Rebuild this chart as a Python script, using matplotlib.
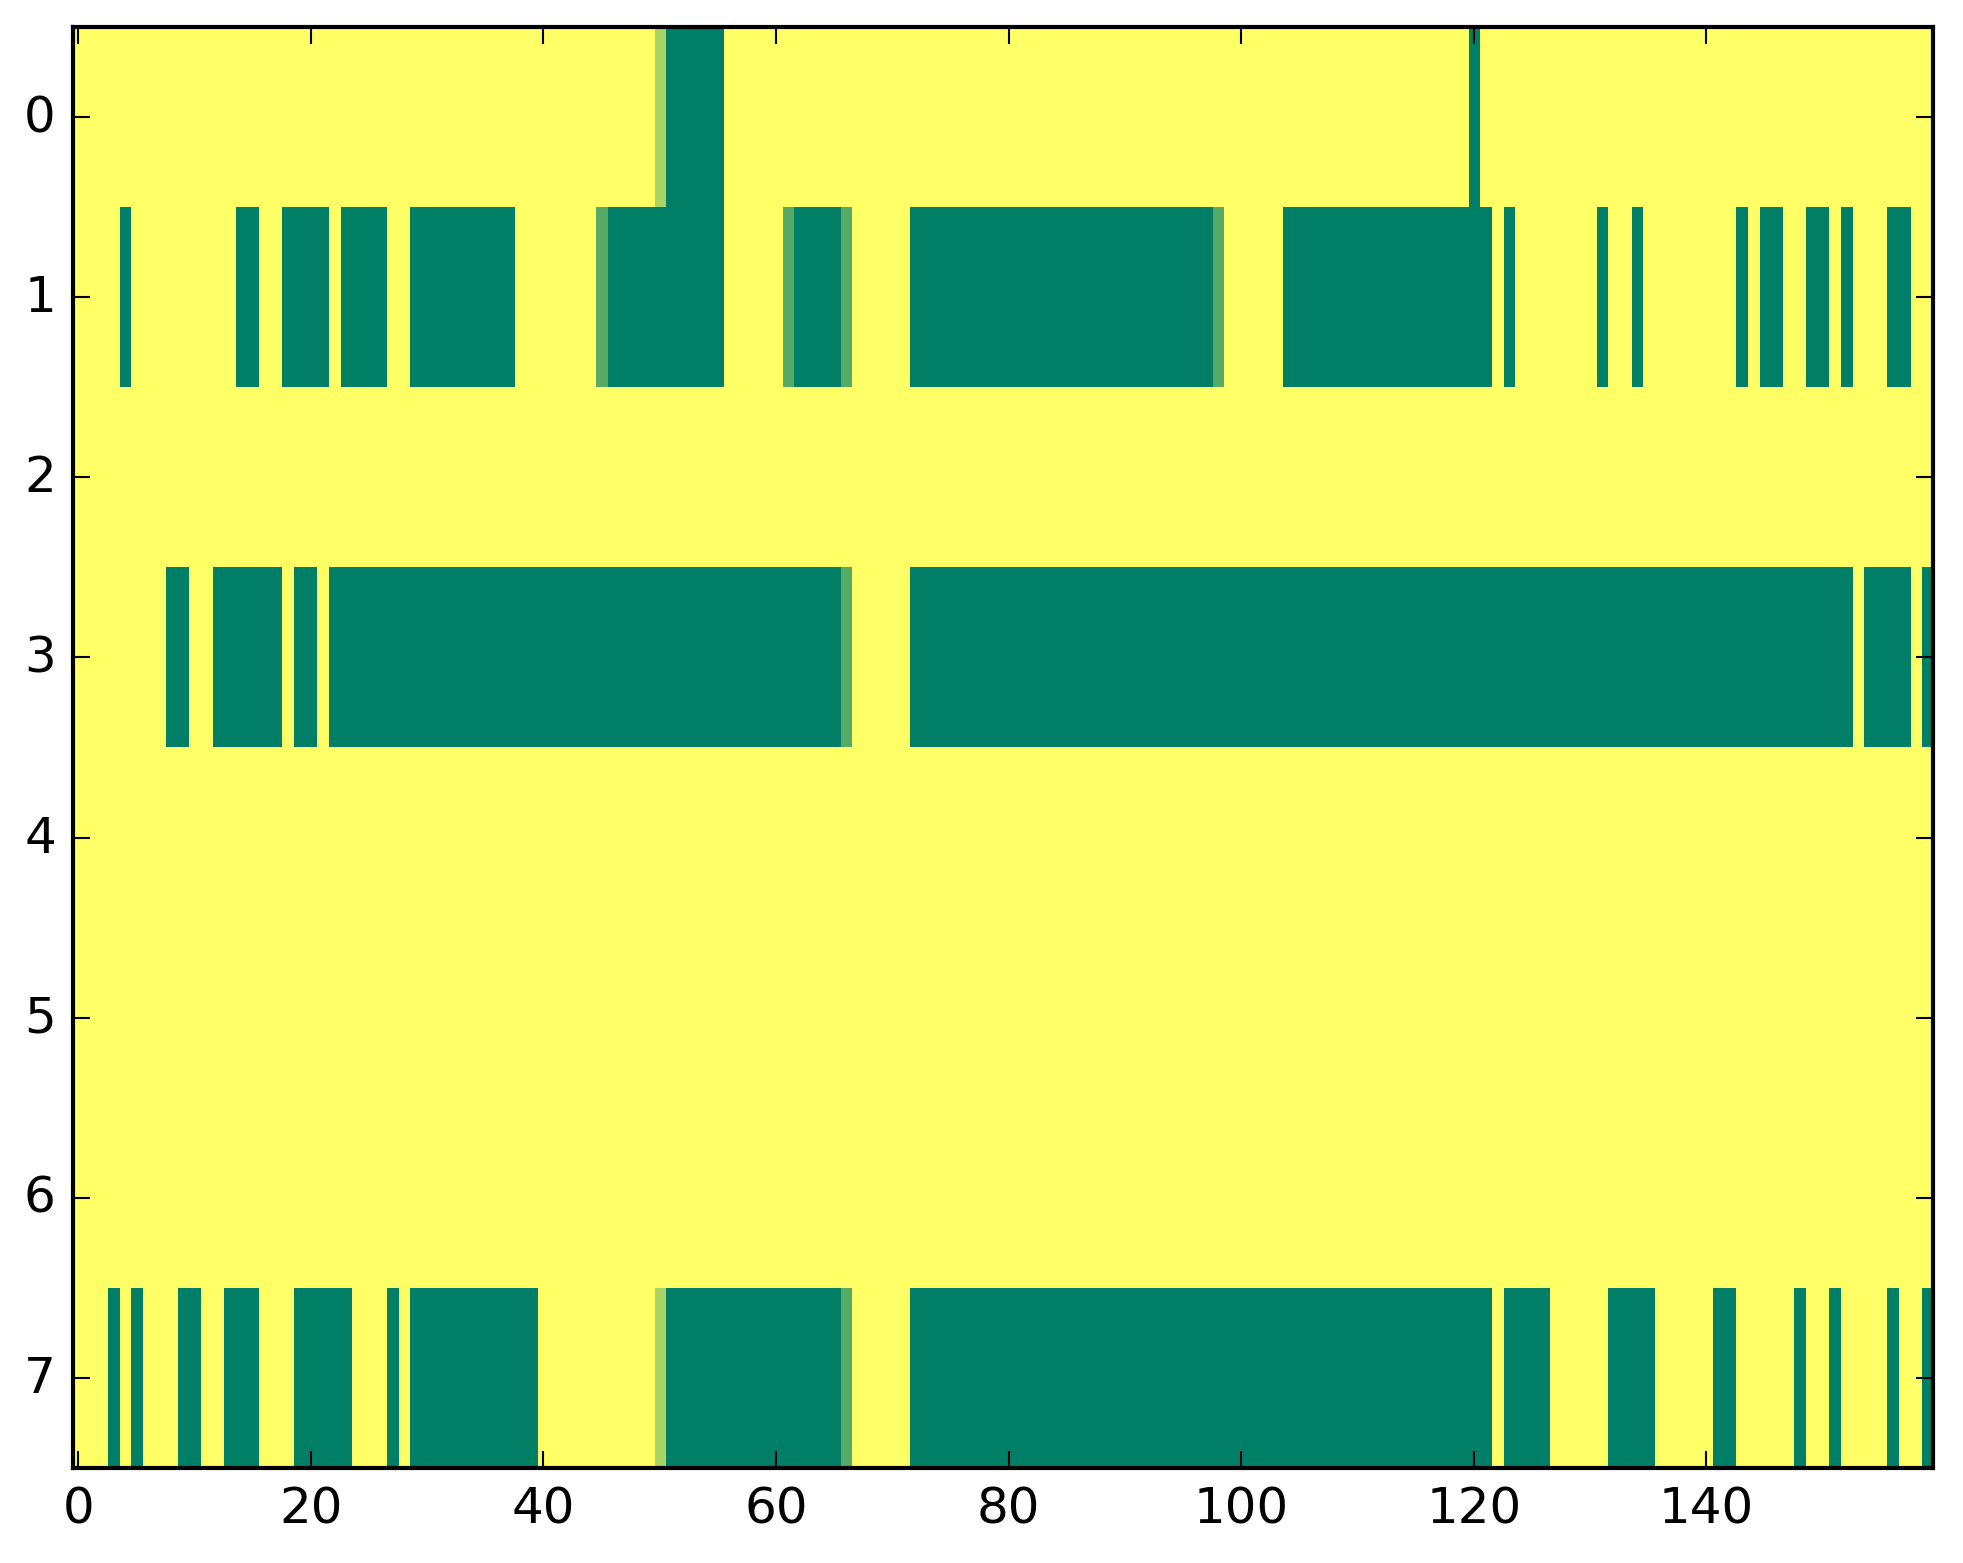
import numpy as np
import matplotlib
matplotlib.use("Agg")
import matplotlib.pyplot as plt

plt.style.use("classic")
plt.rcParams["font.family"] = ["DejaVu Sans"]

n_rows = 8
n_cols = 160

# Runs of full-value (1.0) cells per row: (first_col, last_col)
row0_runs = [(51, 55), (120, 120)]
row1_runs = [(4, 4), (14, 15), (18, 21), (23, 26), (29, 37), (46, 55), (62, 65),
             (72, 97), (104, 121), (123, 123), (131, 131), (134, 134), (143, 143),
             (145, 146), (149, 150), (152, 152), (156, 157)]
row2_runs = []
row3_runs = [(8, 9), (12, 17), (19, 20), (22, 65), (72, 152), (154, 157), (159, 159)]
row4_runs = []
row5_runs = []
row6_runs = []
row7_runs = [(3, 3), (5, 5), (9, 10), (13, 15), (19, 23), (27, 27), (29, 39), (51, 65),
             (72, 121), (123, 126), (132, 135), (141, 142), (148, 148), (151, 151),
             (156, 156), (159, 159)]

# Partial-value cells per row: {col: value}
row0_partial = {50: 1/3}
row1_partial = {45: 2/3, 61: 2/3, 66: 2/3, 98: 2/3}
row3_partial = {66: 2/3}
row7_partial = {50: 1/3, 66: 2/3}

all_runs = [row0_runs, row1_runs, row2_runs, row3_runs,
            row4_runs, row5_runs, row6_runs, row7_runs]
all_partial = {0: row0_partial, 1: row1_partial, 3: row3_partial, 7: row7_partial}

data = np.zeros((n_rows, n_cols))
for r, runs in enumerate(all_runs):
    for a, b in runs:
        data[r, a:b + 1] = 1.0
for r, cells in all_partial.items():
    for c, v in cells.items():
        data[r, c] = v

W, H, DPI = 1963, 1564, 300
L, R, T, B = 72.5, 1933, 28, 1469
fig = plt.figure(figsize=(W / DPI, H / DPI), dpi=DPI, facecolor="white")
ax = fig.add_axes([L / W, 1 - B / H, (R - L) / W, (B - T) / H])
ax.imshow(data, cmap="summer_r", vmin=0, vmax=1, aspect="auto",
          interpolation="nearest")
ax.set_xlim(-0.5, n_cols - 0.5)
ax.set_ylim(n_rows - 0.5, -0.5)
ax.set_xticks(np.arange(0, n_cols, 20))
ax.set_yticks(np.arange(0, n_rows, 1))
ax.tick_params(labelsize=12)

fig.savefig("out.png", dpi=DPI, facecolor="white")
